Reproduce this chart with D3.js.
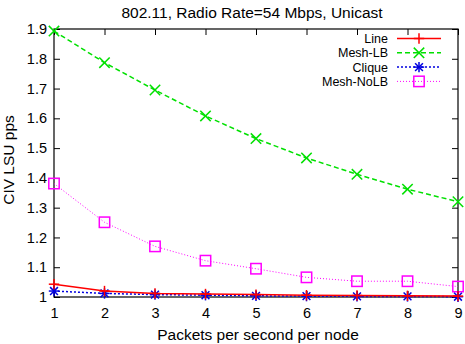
<!DOCTYPE html>
<html><head><meta charset="utf-8">
<script src="https://cdn.jsdelivr.net/npm/d3@7"></script>
<style>body{margin:0;background:#fff}svg{display:block}text{font-family:"Liberation Sans",Arial,sans-serif;fill:#000}</style>
</head><body><svg id="c" width="465" height="344"></svg>
<script>
const xValues = [1,2,3,4,5,6,7,8,9];
const lineVals = [1.043,1.020,1.012,1.010,1.008,1.006,1.005,1.004,1.003];
const meshLBVals = [1.893,1.787,1.695,1.608,1.532,1.467,1.412,1.362,1.320];
const cliqueVals = [1.020,1.012,1.008,1.006,1.004,1.003,1.002,1.002,1.001];
const meshNoLBVals = [1.381,1.251,1.170,1.122,1.095,1.066,1.053,1.053,1.035];
const yTicks = [1,1.1,1.2,1.3,1.4,1.5,1.6,1.7,1.8,1.9];
const xTicks = [1,2,3,4,5,6,7,8,9];
const seriesNames = ["Line","Mesh-LB","Clique","Mesh-NoLB"];
const seriesColors = ["#ff0000","#00e000","#0000e0","#ff00ff"];
const seriesDash = [null,"5,3","2,2","1,2"];
const seriesMarkers = ["plus","cross","star","square"];
const seriesData = [lineVals, meshLBVals, cliqueVals, meshNoLBVals];

const svg = d3.select("#c");
const L=54, R=458, T=29, B=297;
const x = d3.scaleLinear().domain([1,9]).range([L,R]);
const y = d3.scaleLinear().domain([1,1.9]).range([B,T]);

// title
svg.append("text").attr("x",252).attr("y",18).attr("text-anchor","middle").attr("font-size",15.5).text("802.11, Radio Rate=54 Mbps, Unicast");

// axes
const ax = svg.append("g").attr("transform",`translate(0,${B})`).call(d3.axisBottom(x).tickValues(xTicks).tickFormat(d3.format("d")).tickSize(-6).tickPadding(11));
const axT = svg.append("g").attr("transform",`translate(0,${T})`).call(d3.axisTop(x).tickValues(xTicks).tickFormat("").tickSize(-6));
const ay = svg.append("g").attr("transform",`translate(${L},0)`).call(d3.axisLeft(y).tickValues(yTicks).tickFormat(d=>d===1?"1":d3.format(".1f")(d)).tickSize(-6).tickPadding(7));
const ayR = svg.append("g").attr("transform",`translate(${R},0)`).call(d3.axisRight(y).tickValues(yTicks).tickFormat("").tickSize(-6));
[ax,axT,ay,ayR].forEach(g=>{g.select(".domain").remove();g.selectAll("line").attr("stroke","#000");g.selectAll("text").attr("font-size",14.5).attr("font-family","Liberation Sans, Arial, sans-serif");});
svg.append("rect").attr("x",L).attr("y",T).attr("width",R-L).attr("height",B-T).attr("fill","none").attr("stroke","#000").attr("stroke-width",1.2);

// labels
svg.append("text").attr("transform","translate(14,160) rotate(-90)").attr("text-anchor","middle").attr("font-size",15.5).text("CIV LSU pps");
svg.append("text").attr("x",258).attr("y",340).attr("text-anchor","middle").attr("font-size",15.5).text("Packets per second per node");

function marker(g, type, cx, cy, color){
  const s=5.2;
  const p = g.append("g").attr("stroke",color).attr("stroke-width",1.5).attr("fill","none");
  if(type==="plus"||type==="star"){
    p.append("line").attr("x1",cx-s).attr("x2",cx+s).attr("y1",cy).attr("y2",cy);
    p.append("line").attr("x1",cx).attr("x2",cx).attr("y1",cy-s).attr("y2",cy+s);
  }
  if(type==="cross"||type==="star"){
    const k = type==="star"?s*0.75:s;
    p.append("line").attr("x1",cx-k).attr("x2",cx+k).attr("y1",cy-k).attr("y2",cy+k);
    p.append("line").attr("x1",cx-k).attr("x2",cx+k).attr("y1",cy+k).attr("y2",cy-k);
  }
  if(type==="square"){
    p.append("rect").attr("x",cx-s).attr("y",cy-s).attr("width",2*s).attr("height",2*s);
  }
}

const line = d3.line().x((d,i)=>x(xValues[i])).y(d=>y(d));
const plot = svg.append("g");
[3,1,2,0].forEach(si=>{
  const path = plot.append("path").datum(seriesData[si]).attr("d",line).attr("fill","none")
    .attr("stroke",seriesColors[si]).attr("stroke-width",si===3?1:1.5);
  if(seriesDash[si]) path.attr("stroke-dasharray",seriesDash[si]);
  seriesData[si].forEach((v,i)=>marker(plot,seriesMarkers[si],x(xValues[i]),y(v),seriesColors[si]));
});

// legend
const legY=[38.5,52.8,67.1,81.4];
seriesNames.forEach((n,i)=>{
  svg.append("text").attr("x",388).attr("y",legY[i]+4.5).attr("text-anchor","end").attr("font-size",12.5).text(n);
  const l = svg.append("line").attr("x1",397).attr("x2",441).attr("y1",legY[i]).attr("y2",legY[i])
    .attr("stroke",seriesColors[i]).attr("stroke-width",i===3?1:1.5);
  if(seriesDash[i]) l.attr("stroke-dasharray",seriesDash[i]);
  marker(svg,seriesMarkers[i],419,legY[i],seriesColors[i]);
});
</script></body></html>
